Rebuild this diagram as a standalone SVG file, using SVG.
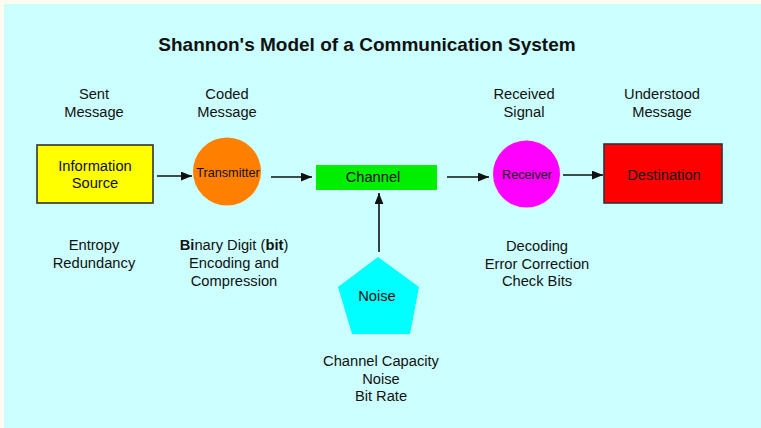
<svg xmlns="http://www.w3.org/2000/svg" width="761" height="428" viewBox="0 0 761 428">
  <style>
    text { font-family: "Liberation Sans", Arial, sans-serif; fill: #111; text-anchor: middle; }
    .title { font-size: 19px; font-weight: bold; }
    .lbl { font-size: 14.7px; }
    .small { font-size: 12.7px; }
    .b { font-weight: bold; }
    .edge { stroke: #111; stroke-width: 1.6; fill: none; marker-end: url(#arrow); }
    .box { stroke: #333; stroke-width: 1.6; }
  </style>
  <defs>
    <marker id="arrow" viewBox="0 0 10 8" refX="10" refY="4" markerUnits="userSpaceOnUse" markerWidth="11" markerHeight="9" orient="auto">
      <path d="M0,0 L10,4 L0,8 Z" fill="#111"/>
    </marker>
  </defs>

  <!-- page and panel -->
  <rect x="0" y="0" width="761" height="428" fill="#fffbef"/>
  <rect x="4" y="4" width="757" height="424" fill="#ccffff"/>

  <text class="title" x="367" y="50.5">Shannon's Model of a Communication System</text>

  <!-- stage captions -->
  <g id="captions">
    <text class="lbl" x="94" y="99">Sent</text>
    <text class="lbl" x="94" y="117">Message</text>
    <text class="lbl" x="227" y="99">Coded</text>
    <text class="lbl" x="227" y="117">Message</text>
    <text class="lbl" x="524" y="99">Received</text>
    <text class="lbl" x="524" y="117">Signal</text>
    <text class="lbl" x="662" y="99">Understood</text>
    <text class="lbl" x="662" y="117">Message</text>
  </g>

  <!-- connectors -->
  <g id="connectors">
    <line class="edge" x1="157" y1="176" x2="192" y2="176"/>
    <line class="edge" x1="271" y1="177" x2="312" y2="177"/>
    <line class="edge" x1="447" y1="177" x2="489" y2="177"/>
    <line class="edge" x1="563" y1="175" x2="603" y2="175"/>
    <line class="edge" x1="379" y1="252" x2="379" y2="193"/>
  </g>

  <g id="source">
    <rect class="box" x="37" y="145" width="116" height="58" fill="#ffff00"/>
    <text class="lbl" x="95" y="171">Information</text>
    <text class="lbl" x="95" y="187.5">Source</text>
  </g>

  <g id="transmitter">
    <circle cx="227" cy="171.5" r="34" fill="#ff8000"/>
    <text class="small" x="228" y="177">Transmitter</text>
  </g>

  <g id="channel">
    <rect x="316" y="165" width="121" height="25" fill="#00ee00"/>
    <text class="lbl" x="373" y="182">Channel</text>
  </g>

  <g id="receiver">
    <circle cx="526.5" cy="174" r="33.5" fill="#ff00ff"/>
    <text class="small" x="527" y="178.5">Receiver</text>
  </g>

  <g id="destination">
    <rect class="box" x="604" y="144" width="118" height="59" fill="#ff0000"/>
    <text class="lbl" x="664" y="179.5">Destination</text>
  </g>

  <g id="noise">
    <polygon points="378,257 419,287 410,334 352,334 338,287" fill="#00ffff"/>
    <text class="lbl" x="377" y="301">Noise</text>
  </g>

  <!-- notes under each stage -->
  <g id="notes">
    <text class="lbl" x="94" y="250">Entropy</text>
    <text class="lbl" x="94" y="268">Redundancy</text>
    <text class="lbl" x="234" y="250"><tspan class="b">Bi</tspan>nary Digit (<tspan class="b">bit</tspan>)</text>
    <text class="lbl" x="234" y="268">Encoding and</text>
    <text class="lbl" x="234" y="286">Compression</text>
    <text class="lbl" x="537" y="250.5">Decoding</text>
    <text class="lbl" x="537" y="268.5">Error Correction</text>
    <text class="lbl" x="537" y="286">Check Bits</text>
    <text class="lbl" x="381" y="366">Channel Capacity</text>
    <text class="lbl" x="381" y="383.5">Noise</text>
    <text class="lbl" x="381" y="401">Bit Rate</text>
  </g>
</svg>
